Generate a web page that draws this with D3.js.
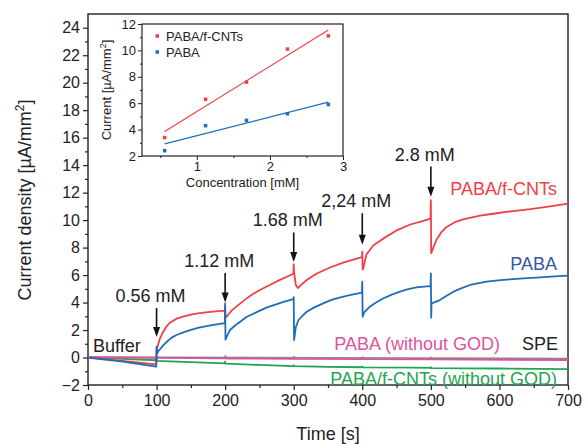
<!DOCTYPE html>
<html lang="en">
<head>
<meta charset="UTF-8">
<title>Amperometric response</title>
<script src="https://d3js.org/d3.v7.min.js"></script>
<style>
  body { margin: 0; background: #fff; }
  text { font-family: "Liberation Sans", Arial, Helvetica, sans-serif; }
</style>
</head>
<body>
<svg width="585" height="444"></svg>
<script>
// ---- data: [time s, current density µA/mm²]
const pabaCnt = [[0,0],[25,-0.12],[50,-0.25],[75,-0.38],[99.5,-0.5],
  [100,0.5],[102,0.9],[105,1.4],[110,1.9],[115,2.3],[120,2.55],[130,2.85],[140,3.0],[150,3.12],[160,3.22],[175,3.3],[190,3.38],[199.5,3.42],
  [200,3.7],[200.5,3.0],[202,2.95],[205,3.15],[210,3.45],[220,3.85],[230,4.25],[240,4.6],[250,4.9],[260,5.15],[270,5.4],[280,5.65],[290,5.88],[299.5,6.1],
  [300,6.8],[300.5,6.2],[303,5.3],[306,5.05],[310,5.25],[319,5.64],[333,6.1],[353,6.55],[372,6.9],[392,7.2],[399.5,7.3],
  [400,7.7],[400.5,6.4],[402,6.6],[406,7.5],[416,8.15],[431,8.67],[450,9.25],[470,9.68],[489,9.95],[499.5,10.1],
  [500,11.45],[500.5,7.6],[502,7.8],[508,8.55],[515,9.1],[523,9.5],[535,9.85],[547,10.05],[560,10.2],[572,10.32],[596,10.5],[620,10.66],[645,10.8],[669,10.97],[700,11.2]];

const paba = [[0,0],[25,-0.15],[51,-0.3],[75,-0.48],[99.5,-0.67],
  [100,0.8],[101,0.3],[103,0.5],[105,0.6],[110,0.9],[115,1.15],[122,1.45],[129,1.64],[140,1.85],[149,2.0],[160,2.15],[173,2.29],[185,2.4],[199.5,2.5],
  [200,3.94],[200.5,1.3],[203,1.6],[207,2.0],[215,2.35],[222,2.61],[231,2.95],[246,3.3],[261,3.65],[270,3.8],[285,4.05],[299.5,4.25],
  [300,4.4],[300.5,1.27],[303,2.2],[307,2.73],[313,3.05],[319,3.33],[330,3.65],[343,3.94],[355,4.2],[368,4.38],[385,4.58],[399.5,4.72],
  [400,5.52],[400.5,2.97],[403,3.3],[411,3.7],[420,4.0],[431,4.31],[443,4.58],[455,4.79],[467,4.97],[479,5.11],[490,5.16],[499.5,5.2],
  [500,6.13],[500.5,2.9],[501,3.94],[507,4.05],[513,4.18],[523,4.5],[533,4.79],[545,5.05],[557,5.28],[570,5.42],[581,5.52],[598,5.62],[615,5.69],[635,5.76],[654,5.81],[675,5.88],[700,5.96]];

const spe = [[0,0.02],[350,-0.03],[700,-0.08]];

const pabaNoGod = [[0,0.02],[100,-0.02],[100.5,0.1],[101,-0.03],[200,-0.06],[200.5,0.1],[201,-0.07],[300,-0.1],[300.5,0.05],[301,-0.1],
  [400,-0.12],[400.5,0.02],[401,-0.12],[500,-0.14],[500.5,0],[501,-0.14],[700,-0.18]];

const cntNoGod = [[0,0],[50,-0.1],[99.5,-0.2],[100,-0.05],[100.5,-0.25],[150,-0.33],[199.5,-0.42],[200,-0.3],[200.5,-0.45],[250,-0.54],[299.5,-0.62],
  [300,-0.55],[300.5,-0.63],[350,-0.68],[399.5,-0.71],[400,-0.66],[400.5,-0.72],[474,-0.74],[499.5,-0.76],[500,-0.7],[500.5,-0.77],[600,-0.8],[700,-0.84]];

// injections
const injectTimes = [100, 200, 300, 400, 500];
const injectLabels = ["0.56 mM", "1.12 mM", "1.68 mM", "2,24 mM", "2.8 mM"];

// inset: calibration
const conc = [0.56, 1.12, 1.68, 2.24, 2.8];
const calCnt = [3.4, 6.3, 7.6, 10.1, 11.1];
const calPaba = [2.4, 4.3, 4.7, 5.2, 5.9];

const xTicks = d3.range(0, 701, 100);
const yTicks = d3.range(-2, 25, 2);

const RED = "#ef4047", BLUE = "#1f6db8", PINK = "#e0529d", GREEN = "#1ea650", GREY = "#8a8a8a";

const svg = d3.select("svg");

const x = d3.scaleLinear().domain([0, 700]).range([88, 568]);
const y = d3.scaleLinear().domain([-2, 25]).range([385, 14]);

// axes
svg.append("g").attr("transform", "translate(0,385)")
  .call(d3.axisBottom(x).tickValues(d3.range(50, 700, 100)).tickSize(3).tickFormat(""))
  .call(g => g.select(".domain").remove());
svg.append("g").attr("transform", "translate(0,385)")
  .call(d3.axisBottom(x).tickValues(xTicks).tickSize(5).tickPadding(5))
  .call(g => g.select(".domain").remove())
  .call(g => g.selectAll("text").attr("font-size", 16).attr("fill", "#222"));

svg.append("g").attr("transform", "translate(88,0)")
  .call(d3.axisLeft(y).tickValues(d3.range(-1, 25, 2)).tickSize(3).tickFormat(""))
  .call(g => g.select(".domain").remove());
svg.append("g").attr("transform", "translate(88,0)")
  .call(d3.axisLeft(y).tickValues(yTicks).tickSize(5).tickPadding(3).tickFormat(d => d < 0 ? "\u2212" + (-d) : d))
  .call(g => g.select(".domain").remove())
  .call(g => g.selectAll("text").attr("font-size", 16).attr("fill", "#222"));

svg.selectAll(".tick line").attr("stroke", "#222").attr("stroke-width", 1.2);

svg.append("rect").attr("x", 88).attr("y", 14).attr("width", 480).attr("height", 371)
  .attr("fill", "none").attr("stroke", "#222").attr("stroke-width", 1.4);

// traces
const line = d3.line().x(d => x(d[0])).y(d => y(d[1]));
const traces = [[cntNoGod, GREEN], [spe, GREY], [pabaNoGod, PINK], [pabaCnt, RED], [paba, BLUE]];
traces.forEach(([data, c]) => {
  svg.append("path").datum(data).attr("d", line)
    .attr("fill", "none").attr("stroke", c).attr("stroke-width", 1.8).attr("stroke-linejoin", "round");
});

// arrows & concentration labels
const arrowTop = [3.6, 6.15, 9.1, 10.5, 13.9];
const arrowTip = [1.5, 4.0, 6.95, 8.2, 11.7];
injectTimes.forEach((t, i) => {
  const ax = x(t), y0 = y(arrowTop[i]), y1 = y(arrowTip[i]);
  svg.append("line").attr("x1", ax).attr("x2", ax).attr("y1", y0).attr("y2", y1 - 8)
    .attr("stroke", "#111").attr("stroke-width", 1.6);
  svg.append("path").attr("d", `M${ax - 3.5},${y1 - 10}L${ax + 3.5},${y1 - 10}L${ax},${y1}Z`).attr("fill", "#111");
  svg.append("text").attr("x", ax - 6).attr("y", y0 - 6).attr("text-anchor", "middle")
    .attr("font-size", 18).attr("fill", "#222").text(injectLabels[i]);
});

// curve labels
const lab = (tx, ty, s, c, anchor) => svg.append("text").attr("x", tx).attr("y", ty)
  .attr("text-anchor", anchor || "end").attr("font-size", 18).attr("fill", c).text(s);
lab(93, 352, "Buffer", "#222", "start");
lab(557, 195, "PABA/f-CNTs", RED);
lab(557, 270, "PABA", "#3556a6");
lab(500, 350, "PABA (without GOD)", PINK);
lab(558, 350, "SPE", "#222");
lab(557, 385, "PABA/f-CNTs (without GOD)", GREEN);

// axis titles
svg.append("text").attr("x", 328).attr("y", 440).attr("text-anchor", "middle")
  .attr("font-size", 18).attr("fill", "#222").text("Time [s]");
svg.append("text").attr("transform", "translate(31,200) rotate(-90)").attr("text-anchor", "middle")
  .attr("font-size", 18).attr("fill", "#222")
  .call(t => { t.append("tspan").text("Current density [\u00b5A/mm"); t.append("tspan").attr("dy", -7).attr("font-size", 12).text("2"); t.append("tspan").attr("dy", 7).text("]"); });

// ---- inset
const ix = d3.scaleLinear().domain([0.25, 3]).range([142, 343]);
const iy = d3.scaleLinear().domain([2, 12]).range([156, 24]);
const inset = svg.append("g");
inset.append("rect").attr("x", 142).attr("y", 24).attr("width", 201).attr("height", 132)
  .attr("fill", "#fff").attr("stroke", "#222").attr("stroke-width", 1.2);

inset.append("g").attr("transform", "translate(0,156)")
  .call(d3.axisBottom(ix).tickValues([0.5, 1.5, 2.5]).tickSize(2).tickFormat(""))
  .call(g => g.select(".domain").remove());
inset.append("g").attr("transform", "translate(0,156)")
  .call(d3.axisBottom(ix).tickValues([1, 2, 3]).tickSize(4).tickPadding(2).tickFormat(d3.format("d")))
  .call(g => g.select(".domain").remove())
  .call(g => g.selectAll("text").attr("font-size", 13).attr("fill", "#222"));
inset.append("g").attr("transform", "translate(142,0)")
  .call(d3.axisLeft(iy).tickValues([3, 5, 7, 9, 11]).tickSize(2).tickFormat(""))
  .call(g => g.select(".domain").remove());
inset.append("g").attr("transform", "translate(142,0)")
  .call(d3.axisLeft(iy).tickValues([2, 4, 6, 8, 10, 12]).tickSize(4).tickPadding(2))
  .call(g => g.select(".domain").remove())
  .call(g => g.selectAll("text").attr("font-size", 13).attr("fill", "#222"));
inset.selectAll(".tick line").attr("stroke", "#222");

// least-squares fit lines
function fit(xs, ys) {
  const mx = d3.mean(xs), my = d3.mean(ys);
  const b = d3.sum(xs, (v, i) => (v - mx) * (ys[i] - my)) / d3.sum(xs, v => (v - mx) ** 2);
  return v => my + b * (v - mx);
}
[[calCnt, RED], [calPaba, BLUE]].forEach(([ys, c]) => {
  const f = fit(conc, ys);
  const x0 = d3.min(conc), x1 = d3.max(conc);
  inset.append("line").attr("x1", ix(x0)).attr("y1", iy(f(x0))).attr("x2", ix(x1)).attr("y2", iy(f(x1)))
    .attr("stroke", c).attr("stroke-width", 1.2);
  inset.selectAll(null).data(conc).join("rect")
    .attr("x", (d) => ix(d) - 1.75).attr("y", (d, i) => iy(ys[i]) - 1.75)
    .attr("width", 3.5).attr("height", 3.5).attr("fill", c);
});

// inset legend
[["PABA/f-CNTs", RED, 36], ["PABA", BLUE, 52]].forEach(([s, c, ly]) => {
  inset.append("rect").attr("x", 155.5).attr("y", ly - 1.75).attr("width", 3.5).attr("height", 3.5).attr("fill", c);
  inset.append("text").attr("x", 166).attr("y", ly + 5).attr("font-size", 13).attr("fill", "#222").text(s);
});

inset.append("text").attr("x", 242.5).attr("y", 187).attr("text-anchor", "middle")
  .attr("font-size", 13).attr("fill", "#222").text("Concentration [mM]");
inset.append("text").attr("transform", "translate(111,90) rotate(-90)").attr("text-anchor", "middle")
  .attr("font-size", 13).attr("fill", "#222")
  .call(t => { t.append("tspan").text("Current [\u00b5A/mm"); t.append("tspan").attr("dy", -5).attr("font-size", 9).text("2"); t.append("tspan").attr("dy", 5).text("]"); });
</script>
</body>
</html>
